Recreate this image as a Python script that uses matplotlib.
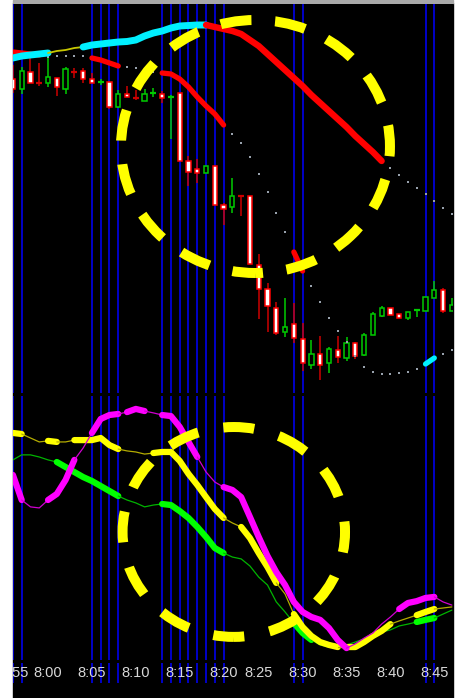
import matplotlib
matplotlib.use('Agg')
import matplotlib.pyplot as plt
from matplotlib import font_manager
from matplotlib.patches import Ellipse, Rectangle

# 1-minute bars, numbered from the 8:00 bar (one minute has no bar after 8:20)
bars = list(range(-4, 47))

opens = [321, 311, 328, 317.3, 317, 322, 311, 328.3, 329, 321,
         318, 318, 293, 306, 302.3, 299, 307, 306, 303, 307,
         239, 231, 227, 234, 195, 193, 204.3, 204, 135, 111,
         92, 68, 76, 61, 35, 46, 37, 50, 42, 57,
         45, 65, 84, 92, 86, 82, 90, 89, 102, 110,
         89]
highs = [335, 333, 345, 337, 343, 322, 333, 332, 332, 327,
         321, 319, 310, 314, 310, 311, 312, 309, 305, 307,
         244, 241, 234, 234, 197, 222, 204.3, 204, 146, 117,
         98, 102, 97, 77, 60, 64, 53, 64, 63, 58,
         67, 88, 94, 92, 86, 88, 91, 103, 119, 112,
         102]
lows = [307, 306, 317, 314, 313, 304, 306, 322, 317, 317,
        315, 291, 292, 303, 300, 299, 303, 297, 261, 239,
        214, 217, 227, 195, 175, 187, 184, 136, 81, 68,
        65, 63, 57, 29, 31, 20, 27, 37, 39, 41,
        44, 65, 83, 85, 82, 80, 83, 89, 102, 87,
        89]
closes = [311, 329, 317, 317, 323, 313, 331, 328, 321, 317,
          318.3, 293, 306, 303, 302, 306, 307.3, 302, 303.3, 239,
          228, 227, 234, 195, 191, 204, 204, 136, 111, 94,
          67, 73, 62, 37, 46, 35, 51, 43, 57, 44,
          65, 86, 92, 85, 82, 88, 90.3, 103, 110, 89,
          95]

# price bands; state: c=rising, r=falling, y=flat, d=neutral (dotted)
upper_band = [342, 344, 345, 346, 347, 349, 350, 352, 353, 355,
              356, 357, 358, 358.5, 360, 364, 367, 369, 372, 374,
              374.5, 375, 375, 373, 371, 369, 366, 360, 354, 346,
              338, 330, 322, 314, 305, 297, 289, 281, 273, 264,
              256, 248, 239, 232, 225, 218, 212, 206, 199, 192,
              186]
upper_state = 'c' * 5 + 'y' * 4 + 'c' * 14 + 'r' * 20 + 'd' * 8

mid_band = [348, 347, 346, 345, 343, 344, 344, 344, 344, 342,
            340, 337, 334, 333, 332, 330, 328, 327, 326, 321,
            313, 303, 294, 286, 275, 266, 257, 243, 226, 208,
            187, 168, 148, 129, 114, 98, 82, 69, 58, 44,
            33, 28, 26, 26, 27, 28, 31, 36, 42, 46,
            50]
mid_state = 'r' * 4 + 'd' * 6 + 'r' * 3 + 'd' * 5 + 'r' * 7 + 'd' * 8 + 'r' + 'd' * 14 + 'c' + 'd' * 2

# oscillators (0-100); T = strong segment, t = weak segment
osc_magenta = [70.1, 60.6, 58.0, 57.6, 60.6, 62.9, 68.2, 75.8, 80.3, 86.0,
               91.3, 92.8, 93.2, 93.9, 95.1, 94.3, 93.6, 92.8, 92.4, 88.3,
               82.6, 76.9, 71.2, 67.4, 65.5, 64.4, 61.7, 54.2, 46.6, 39.4,
               33.3, 28.4, 22.0, 18.2, 16.3, 15.2, 12.1, 7.6, 4.5, 6.1,
               8.3, 10.2, 13.6, 16.3, 19.3, 21.6, 22.3, 23.5, 23.9, 22.0,
               20.8]
magenta_state = 'TTtttTTTttTTTtTTttTTTTttt' + 'T' * 14 + 't' * 6 + 'TTTTtt'

osc_yellow = [86.0, 85.6, 84.1, 82.6, 83.0, 82.6, 82.6, 83.3, 83.3, 83.3,
              84.1, 81.4, 79.9, 79.2, 78.8, 78.0, 78.4, 78.8, 78.8, 75.4,
              70.5, 66.3, 61.7, 57.2, 53.8, 51.9, 50.4, 46.2, 40.5, 35.2,
              29.2, 25.0, 17.4, 12.5, 9.1, 6.8, 5.7, 4.9, 4.9, 4.9,
              6.8, 9.1, 11.0, 13.6, 14.8, 15.9, 17.0, 18.2, 19.3, 19.7,
              20.1]
yellow_state = 'TTttt' + 'T' + 'tt' + 'T' * 5 + 't' * 4 + 'T' * 8 + 'tt' + 'T' * 4 + 'tt' + 'T' * 5 + 't' + 'T' * 5 + 'ttt' + 'TTtt'

osc_green = [75.8, 77.7, 77.7, 76.9, 75.8, 75.0, 73.1, 71.2, 69.3, 67.8,
             65.9, 64.0, 62.1, 60.6, 59.5, 58.0, 58.7, 59.1, 58.7, 56.4,
             53.8, 50.4, 46.6, 42.4, 40.5, 39.0, 38.3, 35.6, 31.4, 28.4,
             22.0, 18.2, 14.0, 10.2, 7.6, 5.7, 4.9, 4.5, 5.7, 6.8,
             8.0, 9.8, 10.6, 11.4, 12.9, 13.6, 14.4, 15.2, 15.9, 17.4,
             18.9]
green_state = 't' * 6 + 'T' * 7 + 't' * 5 + 'T' * 7 + 't' * 8 + 'TT' + 't' * 12 + 'TTtt'

# bars flagged with blue vertical markers
marker_bars = [-4, -3, 5, 6, 7, 8, 13, 14, 15, 16, 17, 18, 19, 20, 28, 29, 43, 44]

# time labels and the bar each one sits on
tick_bars = [-5, 0, 5, 10, 15, 20, 24, 29, 34, 39, 44]
tick_labels = ['7:55', '8:00', '8:05', '8:10', '8:15', '8:20', '8:25', '8:30', '8:35', '8:40', '8:45']


def draw_state_line(ax, xs, ys, states, looks, z):
    start = 1
    while start < len(xs):
        kind = states[start]
        end = start
        while end + 1 < len(xs) and states[end + 1] == kind:
            end += 1
        if kind == 'd':
            ax.plot(xs[start:end + 1], ys[start:end + 1], ls='none', marker='s',
                    ms=2.1, mew=0, color='#98a2ad', zorder=z)
        else:
            color, lw = looks[kind]
            ax.plot(xs[start - 1:end + 1], ys[start - 1:end + 1], color=color, lw=lw,
                    solid_capstyle='round', solid_joinstyle='round', zorder=z)
        start = end + 1


# narrow sans for the time axis if it is there
try:
    font_manager.findfont('Liberation Sans Narrow', fallback_to_default=False)
    label_font, label_size = 'Liberation Sans Narrow', 11.5
except ValueError:
    label_font, label_size = 'Liberation Sans', 10.5

W, H = 461, 698
fig = plt.figure(figsize=(W / 100, H / 100), dpi=100, facecolor='white')
fig.add_artist(Rectangle((13 / W, 0), 440 / W, 695 / H, transform=fig.transFigure,
                         color='black', zorder=-2))
fig.add_artist(Rectangle((13 / W, 695 / H), 440 / W, 3 / H, transform=fig.transFigure,
                         color='#a8a8a8', zorder=-2))

ax_p = fig.add_axes([13 / W, 1 - 393 / H, 440 / W, 389 / H])
ax_o = fig.add_axes([13 / W, 1 - 660 / H, 440 / W, 264 / H])
ax_t = fig.add_axes([13 / W, 0, 440 / W, 38 / H])
for ax in (ax_p, ax_o, ax_t):
    ax.set_facecolor('black')
    ax.set_xlim(-3.99, 46.13)
    ax.set_xticks([])
    ax.set_yticks([])
    for s in ax.spines.values():
        s.set_visible(False)
ax_p.set_ylim(7, 396)
ax_o.set_ylim(0, 100)
ax_t.set_ylim(0, 1)

for ax in (ax_p, ax_o):
    for b in marker_bars:
        ax.axvline(b, color='#0000ff', lw=1.1, zorder=1)
ax_t.vlines(marker_bars, 0.395, 0.921, color='#0000ff', lw=1.1, zorder=1)

# candles
for b, o, h, l, c in zip(bars, opens, highs, lows, closes):
    up = c >= o
    wick = '#00cc00' if up else '#cc0000'
    ax_p.vlines(b, l, h, color=wick, lw=1.1, zorder=3)
    if abs(c - o) < 1:
        ax_p.hlines(o, b - 0.34, b + 0.34, color=wick, lw=1.6, zorder=4)
    else:
        ax_p.bar(b, c - o, bottom=o, width=0.48, color='black' if up else 'white',
                 edgecolor='#00cc00' if up else '#ff0000', lw=1.1, zorder=4)

draw_state_line(ax_p, bars, mid_band, mid_state,
                {'r': ('#ff0000', 3.8), 'c': ('#00f0ff', 3.8)}, 5)
draw_state_line(ax_p, bars, upper_band, upper_state,
                {'c': ('#00f0ff', 5.0), 'r': ('#ff0000', 4.6), 'y': ('#c8c800', 1.3)}, 5)

draw_state_line(ax_o, bars, osc_green, green_state,
                {'T': ('#00ff00', 4.5), 't': ('#00b400', 0.9)}, 3)
draw_state_line(ax_o, bars, osc_yellow, yellow_state,
                {'T': ('#ffff00', 4.5), 't': ('#b4ac00', 0.9)}, 4)
draw_state_line(ax_o, bars, osc_magenta, magenta_state,
                {'T': ('#ff00ff', 4.5), 't': ('#d000d0', 0.9)}, 5)

# dashed highlight circles
ax_p.add_patch(Ellipse((23.63, 253.5), 30.64, 253, fill=False, ec='#ffff00', lw=7.2,
                       ls=(2.35, (3.1, 2.37)), zorder=6, clip_on=False))
ax_o.add_patch(Ellipse((21.16, 48.5), 25.34, 79.5, fill=False, ec='#ffff00', lw=7.2,
                       ls=(2.05, (3.1, 2.56)), zorder=6, clip_on=False))

# time labels
x_lo = ax_t.get_xlim()[0]
for t, lab in zip(tick_bars, tick_labels):
    ax_t.text(max(t, x_lo + 0.2), 0.658, lab, ha='center', va='center', color='#d8d8d8',
              fontsize=label_size, family=label_font, clip_on=True, zorder=3)

fig.savefig('out.png', dpi=100, facecolor='white')
